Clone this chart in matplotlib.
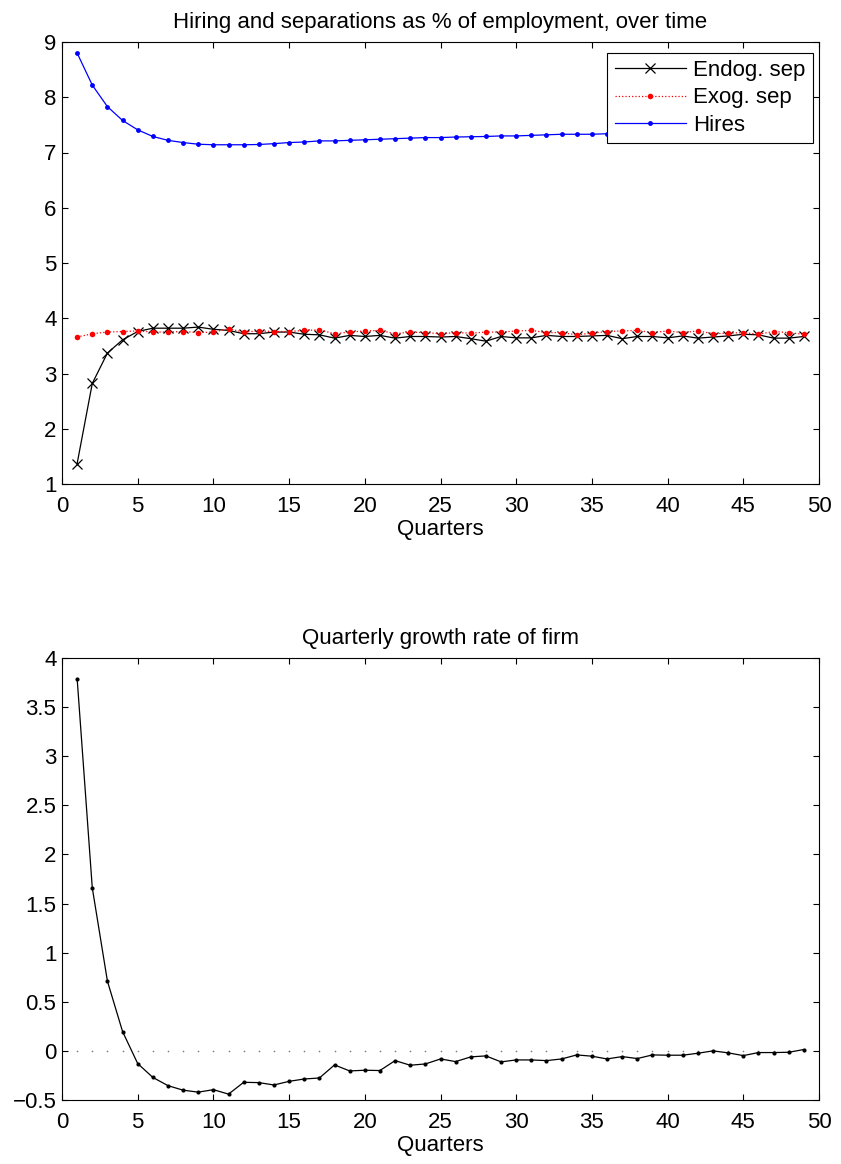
import numpy as np
import matplotlib
matplotlib.use("Agg")
import matplotlib.pyplot as plt

plt.rcParams['font.family'] = ['Liberation Sans', 'DejaVu Sans']

quarters = list(range(1, 50))

endog_sep = [1.37, 2.82, 3.37, 3.61, 3.76, 3.82, 3.82, 3.82, 3.84, 3.80,
             3.78, 3.72, 3.72, 3.75, 3.75, 3.71, 3.70, 3.64, 3.69, 3.67,
             3.69, 3.64, 3.67, 3.67, 3.66, 3.67, 3.63, 3.585, 3.67, 3.645,
             3.645, 3.69, 3.67, 3.67, 3.68, 3.69, 3.63, 3.67, 3.67, 3.645,
             3.68, 3.64, 3.66, 3.68, 3.71, 3.70, 3.64, 3.64, 3.67]

exog_sep = [3.66, 3.72, 3.75, 3.76, 3.77, 3.75, 3.75, 3.76, 3.74, 3.75,
            3.81, 3.75, 3.77, 3.76, 3.76, 3.78, 3.79, 3.72, 3.75, 3.77,
            3.78, 3.72, 3.75, 3.74, 3.72, 3.74, 3.73, 3.75, 3.75, 3.77,
            3.78, 3.74, 3.74, 3.70, 3.73, 3.76, 3.77, 3.78, 3.74, 3.77,
            3.74, 3.77, 3.72, 3.73, 3.74, 3.71, 3.76, 3.74, 3.71]

hires = [8.80, 8.22, 7.83, 7.58, 7.41, 7.29, 7.22, 7.18, 7.15, 7.14,
         7.14, 7.14, 7.145, 7.16, 7.18, 7.19, 7.21, 7.21, 7.22, 7.23,
         7.24, 7.25, 7.26, 7.27, 7.27, 7.28, 7.285, 7.29, 7.30, 7.30,
         7.31, 7.32, 7.33, 7.33, 7.33, 7.34, 7.34, 7.35, 7.35, 7.35,
         7.36, 7.36, 7.36, 7.37, 7.37, 7.37, 7.37, 7.38, 7.38]

growth = [3.79, 1.66, 0.71, 0.197, -0.129, -0.27, -0.354, -0.40, -0.42, -0.395,
          -0.44, -0.32, -0.323, -0.347, -0.31, -0.286, -0.276, -0.143, -0.204, -0.197,
          -0.20, -0.099, -0.146, -0.133, -0.082, -0.109, -0.061, -0.051, -0.112, -0.092,
          -0.092, -0.099, -0.082, -0.041, -0.054, -0.082, -0.058, -0.078, -0.041, -0.044,
          -0.044, -0.024, 0.0, -0.02, -0.048, -0.017, -0.017, -0.014, 0.014]

fs = 16

fig = plt.figure(figsize=(8.41, 11.64), dpi=100)
ax1 = fig.add_axes([62 / 841, 1 - 484 / 1164, 757 / 841, 442 / 1164])
ax2 = fig.add_axes([62 / 841, 1 - 1100 / 1164, 757 / 841, 442 / 1164])


def style_axes(ax):
    for s in ax.spines.values():
        s.set_linewidth(0.8)
    ax.tick_params(direction='in', length=4.5, width=0.8, top=True, right=True,
                   labelsize=fs)
    ax.tick_params(axis='x', pad=8.5)
    ax.tick_params(axis='y', pad=4)
    ax.set_xlim(0, 50)
    ax.set_xticks(np.arange(0, 51, 5))
    ax.set_xlabel('Quarters', fontsize=fs, labelpad=1.5)


# top panel
ax1.plot(quarters, endog_sep, color='k', lw=0.9, marker='x', ms=7.5,
         mew=0.9, label='Endog. sep')
ax1.plot(quarters, exog_sep, color='r', lw=0.9, ls=':', marker='o', ms=4,
         mew=0, label='Exog. sep')
ax1.plot(quarters, hires, color='b', lw=0.9, marker='o', ms=3.5, mew=0,
         label='Hires')
ax1.set_ylim(1, 9)
ax1.set_yticks(range(1, 10))
ax1.set_title('Hiring and separations as % of employment, over time',
              fontsize=fs, pad=10)
style_axes(ax1)
leg = ax1.legend(loc='upper right', bbox_to_anchor=(0.992, 0.975),
                 borderaxespad=0, fontsize=fs, fancybox=False, framealpha=1,
                 edgecolor='k', handlelength=3.2, handletextpad=0.35,
                 labelspacing=0.28, borderpad=0.32)
leg.get_frame().set_linewidth(0.8)

# bottom panel
ax2.plot(quarters, [0] * len(quarters), ls='none', marker='o', ms=1.2,
         mew=0, color='#808080')
ax2.plot(quarters, growth, color='k', lw=0.9, marker='o', ms=3, mew=0)
ax2.set_ylim(-0.5, 4)
ax2.set_yticks(np.arange(-0.5, 4.01, 0.5))
ax2.set_yticklabels(['\u22120.5', '0', '0.5', '1', '1.5', '2', '2.5', '3', '3.5', '4'])
ax2.set_title('Quarterly growth rate of firm', fontsize=fs, pad=10)
style_axes(ax2)

fig.savefig('out.png', dpi=100)
